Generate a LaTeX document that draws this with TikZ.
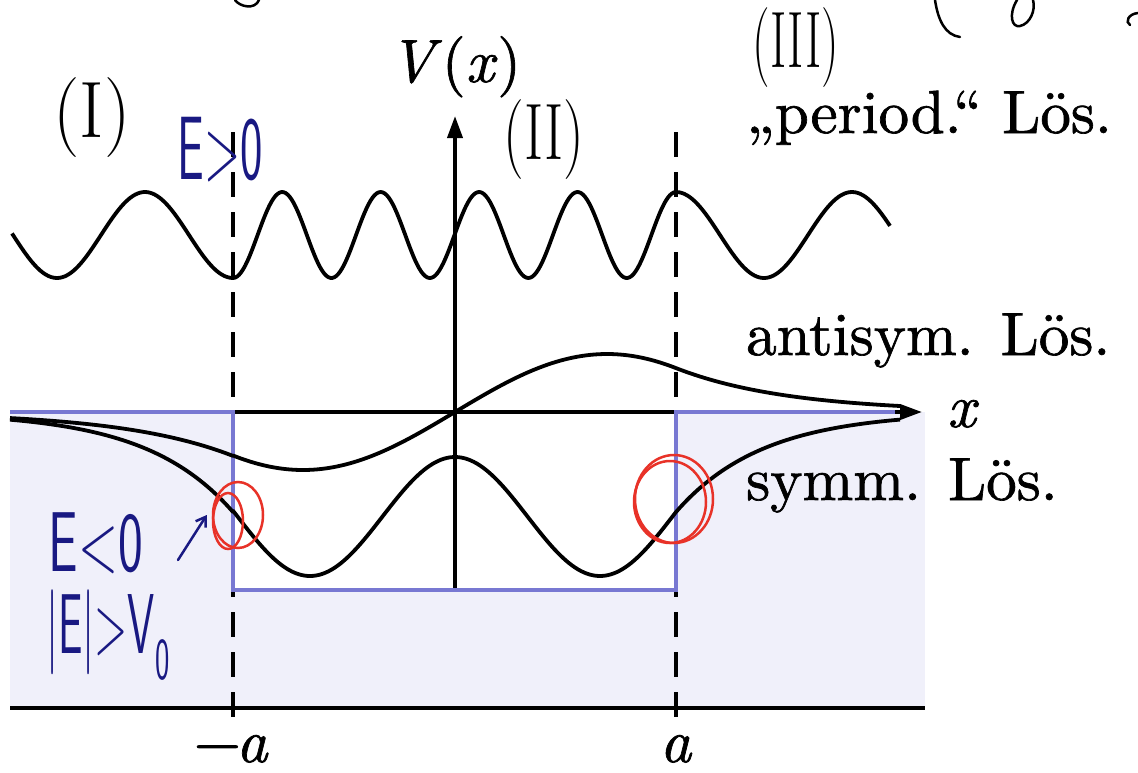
\documentclass[tikz,border=0pt]{standalone}
\usepackage{fontspec}
\newfontfamily\lblfont{lmroman10-regular}[Extension=.otf, ItalicFont=lmroman10-italic, FakeBold=1.1]
\usetikzlibrary{arrows.meta,shapes.geometric}
\definecolor{lavender}{RGB}{240,240,250}
\definecolor{potblue}{RGB}{120,120,210}
\definecolor{ink}{RGB}{25,25,130}
\definecolor{redpen}{RGB}{232,50,40}
\begin{document}
\begin{tikzpicture}[x=1pt,y=-1pt,
  lbl/.style={font=\lblfont\fontsize{61}{64}\selectfont, inner sep=0pt},
  curve/.style={line width=3.8pt, line join=round},
  axis/.style={line width=3.8pt},
  vline/.style={line width=3.8pt, dash pattern=on 25pt off 15pt},
  pot/.style={line width=4.5pt, draw=potblue},
  hand/.style={font=\fontsize{50}{54}\selectfont\sffamily, inner sep=0pt, text=ink},
  roman/.style={font=\fontsize{80}{84}\selectfont, inner sep=0pt},
  pen/.style={line width=2.5pt, line cap=round},
  circ/.style={draw=redpen, line width=2.5pt, ellipse, inner sep=0pt},
]
\useasboundingbox (0,0) rectangle (1138,772);
% shaded region and well
\fill[lavender] (10,412) rectangle (925,708);
\fill[white] (233,412) rectangle (676,590);
% dashed lines
\coordinate (la) at (233,132); \coordinate (lb) at (233,722);
\coordinate (ra) at (676,132); \coordinate (rb) at (676,722);
\draw[vline] (la) -- (lb);
\draw[vline] (ra) -- (rb);
% axes
\coordinate (xs) at (10,412); \coordinate (xe) at (922,412);
\draw[axis,-{Triangle[length=22pt,width=15pt]}] (xs) -- (xe);
\coordinate (vs) at (455,590); \coordinate (ve) at (455,116);
\draw[axis,-{Triangle[length=22pt,width=15pt]}] (vs) -- (ve);
\coordinate (b0) at (10,708); \coordinate (b1) at (925,708);
\draw[axis] (b0) -- (b1);
% potential
\coordinate (p0) at (10,412); \coordinate (p1) at (233,412);
\coordinate (p2) at (233,590); \coordinate (p3) at (676,590);
\coordinate (p4) at (676,412); \coordinate (p5) at (895,412);
\draw[pot] (p0) -- (p1) -- (p2) -- (p3) -- (p4) -- (p5);
% periodic solution
\draw[curve] plot[domain=12:233,samples=80] (\x,{235+43*cos(2.0455*(\x-233))})
  -- plot[domain=233:676,samples=220] (\x,{235+43*cos(3.657*(\x-233))})
  -- plot[domain=676:890,samples=80] (\x,{235-43*cos(2.0455*(\x-676))});
% antisymmetric solution
\draw[curve] plot[domain=10:233,samples=60] (\x,{412+43.9*exp(-0.00888*(233-\x))})
  -- plot[domain=233:676,samples=120] (\x,{412-58*sin(0.5919*(\x-455))})
  -- plot[domain=676:900,samples=60] (\x,{412-43.9*exp(-0.00888*(\x-676))});
% symmetric solution
\draw[curve] plot[domain=10:233,samples=60] (\x,{412+100*exp(-0.0115*(233-\x))})
  -- plot[domain=233:676,samples=150] (\x,{516.5-59.5*cos(1.2414*(\x-455))})
  -- plot[domain=676:900,samples=60] (\x,{412+100*exp(-0.0115*(\x-676))});
% labels
\node[lbl, anchor=base] (vl) at (455,82) {\textit{V}(\textit{x})};
\node[lbl, anchor=base] (xl) at (963,427) {\textit{x}};
\node[lbl, anchor=base] (ma) at (231,762) {−\kern-0.08em\textit{a}};
\node[lbl, anchor=base] (pa) at (676,762) {\textit{a}};
\node[lbl, anchor=base west] (per) at (746,133) {„period.“ Lös.};
\node[lbl, anchor=base west] (anti) at (746,355) {antisym. Lös.};
\node[lbl, anchor=base west] (sym) at (746,500) {symm. Lös.};
% handwritten notes
\node[roman] (r1) at (92,118) {\scalebox{0.93}[1]{(I)}};
\node[roman] (r2) at (544,140) {\scalebox{0.73}[1]{(II)}};
\node[roman] (r3) at (796,48) {\scalebox{0.62}[1]{(III)}};
\node[hand] (e1) at (220,150) {\scalebox{0.95}[1.8]{E>0}};
\node[hand] (e2) at (96,543) {\scalebox{1.05}[1.7]{E<0}};
\node[hand] (e3) at (108,635) {\scalebox{0.87}[1.7]{|E|>V\textsubscript{0}}};
\node[circ, minimum width=50pt, minimum height=66pt] (c1) at (238,515) {};
\draw[redpen, pen] (228,521) ellipse [x radius=15pt, y radius=28pt];
\node[circ, minimum width=78pt, minimum height=88pt] (c2) at (674,499) {};
\draw[redpen, pen] (670,502) ellipse [x radius=36pt, y radius=41pt];
\coordinate (as) at (178,560);
\draw[ink, pen, -{Straight Barb[length=9pt,width=12pt]}] (as) -- ([xshift=-5pt]c1.west);
% cut-off handwriting fragments at the top
\draw[pen] (235,0) .. controls (240,7) and (255,10) .. (259,0);
\draw[pen] (935,0) .. controls (938,20) and (945,35) .. (960,37);
\draw[pen] (1017,0) .. controls (1008,15) and (1012,28) .. (1020,26) .. controls (1030,24) and (1036,10) .. (1033,0);
\draw[pen] (1138,13) .. controls (1128,14) and (1125,22) .. (1130,25);
\end{tikzpicture}
\end{document}
